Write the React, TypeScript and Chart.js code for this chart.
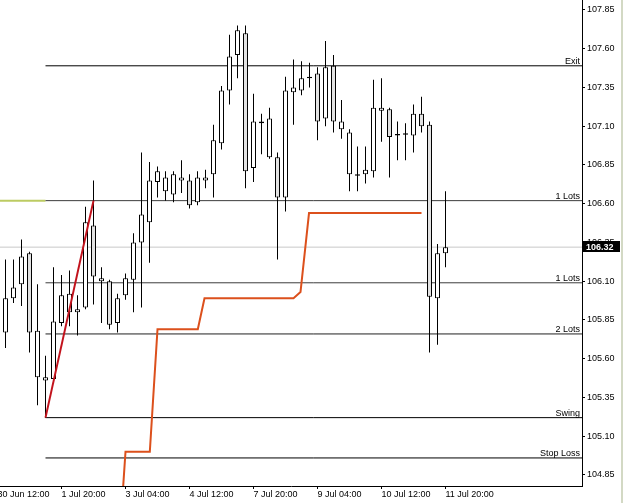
import { useEffect, useRef } from "react";
import { Chart, registerables } from "chart.js";

Chart.register(...registerables);

// ---------- data ----------
const xTickIdx = [0, 8, 16, 24, 32, 40, 48, 56];
const xTickLabels = [
  "30 Jun 12:00",
  "1 Jul 20:00",
  "3 Jul 04:00",
  "4 Jul 12:00",
  "7 Jul 20:00",
  "9 Jul 04:00",
  "10 Jul 12:00",
  "11 Jul 20:00",
];
const yTicks = [
  104.85, 105.1, 105.35, 105.6, 105.85, 106.1, 106.35, 106.6, 106.85, 107.1,
  107.35, 107.6, 107.85,
];

// H4 candles, first one at bar index 1
const firstCandleIdx = 1;
const candleOpen = [
  105.77, 105.99, 106.08, 106.28, 105.48, 105.46, 105.47, 105.83, 105.9, 105.9,
  105.93, 106.46, 106.1, 106.1, 105.83, 106.01, 106.11, 106.35, 106.48, 106.74,
  106.68, 106.66, 106.75, 106.75, 106.61, 106.75, 106.79, 106.99, 107.33, 107.56,
  107.7, 106.83, 107.12, 106.9, 106.9, 106.64, 107.32, 107.33, 107.41, 107.44,
  107.15, 107.49, 107.08, 106.79, 106.78, 106.79, 106.81, 107.2, 107.21, 107.04,
  107.045, 107.04, 107.18, 107.11, 105.99, 106.28,
];
const candleHigh = [
  106.24, 106.24, 106.37, 106.29, 106.08, 105.62, 106.19, 106.14, 106.17, 106.01,
  106.58, 106.75, 106.19, 106.11, 106.02, 106.15, 106.41, 106.93, 106.87, 106.84,
  106.81, 106.81, 106.88, 106.79, 106.81, 106.82, 107.11, 107.36, 107.69, 107.75,
  107.75, 107.31, 107.18, 107.22, 106.93, 107.42, 107.53, 107.52, 107.51, 107.48,
  107.65, 107.56, 107.27, 107.08, 106.97, 106.97, 107.4, 107.41, 107.22, 107.13,
  107.12, 107.24, 107.29, 107.13, 106.34, 106.68,
];
const candleLow = [
  105.67, 105.96, 105.94, 105.64, 105.3, 105.22, 105.45, 105.81, 105.81, 105.75,
  105.92, 105.95, 105.83, 105.79, 105.77, 105.98, 105.9, 105.93, 106.22, 106.64,
  106.62, 106.61, 106.67, 106.57, 106.59, 106.7, 106.64, 106.95, 107.24, 107.41,
  106.7, 106.74, 106.92, 106.89, 106.24, 106.55, 107.11, 107.3, 107.35, 107.01,
  107.1, 107.06, 107.02, 106.68, 106.68, 106.73, 106.77, 107.0, 106.77, 106.88,
  106.88, 106.93, 107.06, 105.64, 105.69, 106.19,
];
const candleClose = [
  105.99, 106.06, 106.26, 105.77, 105.78, 105.48, 105.84, 106.01, 106.02, 105.92,
  106.48, 106.13, 106.12, 105.82, 105.99, 106.12, 106.35, 106.53, 106.75, 106.81,
  106.77, 106.79, 106.77, 106.59, 106.77, 106.77, 107.01, 107.33, 107.55, 107.72,
  106.81, 107.13, 107.13, 107.15, 106.64, 107.33, 107.35, 107.41, 107.42, 107.13,
  107.48, 107.13, 107.13, 107.06, 106.79, 106.82, 107.22, 107.22, 107.03, 107.05,
  107.055, 107.18, 107.1, 106.0, 106.28, 106.32,
];

const levelValues = [107.49, 106.62, 106.09, 105.76, 105.22, 104.96];
const levelLabels = ["Exit", "1 Lots", "1 Lots", "2 Lots", "Swing", "Stop Loss"];
const levelStartIdx = 6;
const lastPrice = 106.32;

const swingLineX = [6, 12];
const swingLineY = [105.22, 106.62];

const trailX = [15.675, 16, 19.04, 20, 25.04, 25.875, 37, 37.875, 38.94, 53];
const trailY = [104.75, 105.0, 105.0, 105.79, 105.79, 105.99, 105.99, 106.03, 106.54, 106.54];

// ---------- layout / style ----------
const xMin = 0.3125;
const xMax = 73.0625;
const yMin = 104.779;
const yMax = 107.9145;
const FONT = "'Liberation Sans', Arial, sans-serif";
const levelColors = ["#000000", "#3c3c3c", "#3c3c3c", "#202020", "#000000", "#000000"];

const overlayPlugin = {
  id: "overlay",
  afterDatasetsDraw(chart: any) {
    const { ctx, chartArea } = chart;
    const y = chart.scales.y;
    ctx.save();
    ctx.font = `9px ${FONT}`;
    ctx.fillStyle = "#000";
    ctx.textAlign = "right";
    ctx.textBaseline = "alphabetic";
    levelValues.forEach((v, i) => {
      ctx.fillText(levelLabels[i], chartArea.right - 2, y.getPixelForValue(v) - 2);
    });
    ctx.restore();
  },
  afterDraw(chart: any) {
    const { ctx, chartArea } = chart;
    const y = chart.scales.y;
    const py = y.getPixelForValue(lastPrice);
    ctx.save();
    ctx.fillStyle = "#000";
    ctx.fillRect(chartArea.right + 1, Math.round(py) - 6, 37, 11);
    ctx.font = `bold 9px ${FONT}`;
    ctx.fillStyle = "#fff";
    ctx.textAlign = "left";
    ctx.textBaseline = "middle";
    ctx.fillText(lastPrice.toFixed(2), chartArea.right + 4, py);
    ctx.fillStyle = "#d3d9c4";
    ctx.fillRect(621, 0, 2, chart.height);
    ctx.restore();
  },
};

export default function App() {
  const ref = useRef<HTMLCanvasElement>(null);

  useEffect(() => {
    const canvas = ref.current;
    if (!canvas) return;

    const candles = candleOpen.map((o, i) => ({
      x: i + firstCandleIdx,
      o,
      h: candleHigh[i],
      l: candleLow[i],
      c: candleClose[i],
    }));

    const levelSets = levelValues.map((v, i) => ({
      type: "line" as const,
      label: levelLabels[i],
      data: [
        { x: levelStartIdx, y: v },
        { x: xMax, y: v },
      ],
      borderColor: levelColors[i],
      borderWidth: 1,
      pointRadius: 0,
      order: 10,
    }));

    const chart = new Chart(canvas, {
      type: "bar",
      data: {
        datasets: [
          {
            type: "line",
            label: "price",
            data: [
              { x: xMin, y: lastPrice },
              { x: xMax, y: lastPrice },
            ],
            borderColor: "#c8c8c8",
            borderWidth: 1,
            pointRadius: 0,
            order: 12,
          },
          {
            type: "line",
            label: "prev",
            data: [
              { x: xMin, y: levelValues[1] },
              { x: levelStartIdx, y: levelValues[1] },
            ],
            borderColor: "#bccb62",
            borderWidth: 2,
            pointRadius: 0,
            order: 11,
          },
          ...levelSets,
          {
            type: "line",
            label: "trail",
            data: trailX.map((x, i) => ({ x, y: trailY[i] })),
            borderColor: "#dc501c",
            borderWidth: 2,
            pointRadius: 0,
            clip: 0,
            order: 5,
          },
          {
            type: "bar",
            label: "wick",
            data: candles.map((c) => ({ x: c.x, y: [c.l, c.h] })),
            backgroundColor: "#000",
            borderWidth: 0,
            barThickness: 1,
            maxBarThickness: 1,
            grouped: false,
            inflateAmount: 0,
            order: 3,
          },
          {
            type: "bar",
            label: "body",
            data: candles.map((c) => ({ x: c.x, y: [c.o, c.c] })),
            backgroundColor: candles.map((c) => (c.c >= c.o ? "#ffffff" : "#e2e2e2")),
            borderColor: "#000",
            borderWidth: 1,
            borderSkipped: false,
            barThickness: 5,
            maxBarThickness: 5,
            grouped: false,
            inflateAmount: 0,
            order: 2,
          },
          {
            type: "line",
            label: "swing",
            data: swingLineX.map((x, i) => ({ x, y: swingLineY[i] })),
            borderColor: "#c2121c",
            borderWidth: 2,
            pointRadius: 0,
            order: 1,
          },
        ] as any,
      },
      options: {
        responsive: false,
        devicePixelRatio: 1,
        animation: false,
        events: [],
        layout: { padding: 0 },
        plugins: {
          legend: { display: false },
          tooltip: { enabled: false },
        },
        font: { family: FONT, size: 9 },
        scales: {
          x: {
            type: "linear",
            min: xMin,
            max: xMax,
            offset: false,
            afterBuildTicks: (s: any) => {
              s.ticks = xTickIdx.map((v) => ({ value: v }));
            },
            afterFit: (s: any) => {
              s.height = 17;
              s.paddingLeft = 0;
              s.paddingRight = 0;
            },
            ticks: {
              autoSkip: false,
              maxRotation: 0,
              minRotation: 0,
              align: "start",
              padding: 0,
              color: "#000",
              font: { family: FONT, size: 9 },
              callback: (v: any) => {
                const k = xTickIdx.indexOf(Number(v));
                return k >= 0 ? xTickLabels[k] : "";
              },
            },
            grid: { drawOnChartArea: false, tickLength: 3, color: "#000", offset: false },
            border: { display: true, color: "#000" },
          },
          y: {
            type: "linear",
            position: "right",
            min: yMin,
            max: yMax,
            beginAtZero: false,
            afterBuildTicks: (s: any) => {
              s.ticks = yTicks.map((v) => ({ value: v }));
            },
            afterFit: (s: any) => {
              s.width = 43;
              s.paddingTop = 0;
              s.paddingBottom = 0;
            },
            ticks: {
              padding: 2,
              color: "#000",
              font: { family: FONT, size: 9 },
              callback: (v: any) => Number(v).toFixed(2),
            },
            grid: { drawOnChartArea: false, tickLength: 3, color: "#000" },
            border: { display: true, color: "#000" },
          },
        },
      } as any,
      plugins: [overlayPlugin],
    });

    return () => chart.destroy();
  }, []);

  return (
    <div
      style={{
        position: "fixed",
        left: 0,
        top: 0,
        width: 625,
        height: 503,
        background: "#fff",
      }}
    >
      <canvas ref={ref} width={625} height={503} style={{ display: "block" }} />
    </div>
  );
}
